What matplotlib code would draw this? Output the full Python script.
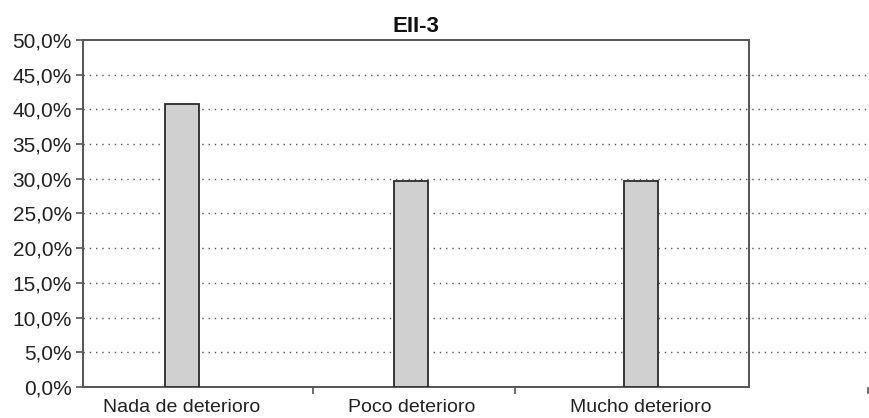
#!/usr/bin/env python3

from matplotlib import pyplot as plt

plt.rcParams['font.family'] = ['Liberation Sans', 'DejaVu Sans']

categories = ["Nada de deterioro", "Poco deterioro", "Mucho deterioro"]
values = [40.74, 29.63, 29.63]
y_ticks = [0, 5, 10, 15, 20, 25, 30, 35, 40, 45, 50]
y_labels = ["%.1f%%" % v for v in y_ticks]
y_labels = [s.replace(".", ",") for s in y_labels]

fig = plt.figure(figsize=(8.7, 4.18), dpi=100)
ax = fig.add_axes([0.0954, 0.0742, 0.7655, 0.8301])

pos = list(range(len(categories)))
ax.bar(pos, values, width=0.148, color="#d0d0d0", edgecolor="#2a2a2a",
       linewidth=1.3, zorder=3)

ax.set_xlim(-0.43, 2.47)
ax.set_ylim(0, 50)

# dotted grid runs past the right edge of the frame, like the original
for y in y_ticks[1:-1]:
    ax.axhline(y, xmin=0, xmax=1.18, color="#555555", linestyle=(0, (1, 3.5)),
               linewidth=1.0, clip_on=False, zorder=1)
ax.plot([1.179, 1.179], [-0.004, -0.018], transform=ax.transAxes,
        color="#555555", linewidth=1.2, clip_on=False)

ax.set_yticks(y_ticks)
ax.set_yticklabels(y_labels, fontsize=15, color="#222222")
ax.set_xticks(pos)
ax.set_xticklabels(categories, fontsize=14, color="#222222")
ax.set_xticks([0.57, 1.45], minor=True)
ax.tick_params(axis="x", which="major", length=0, pad=9)
ax.tick_params(axis="x", which="minor", length=5, width=1.2, color="#555555")
ax.tick_params(axis="y", length=5, width=1.2, color="#555555", pad=3)

for s in ax.spines.values():
    s.set_color("#555555")
    s.set_linewidth(1.4)

ax.set_title("EII-3", fontsize=16, fontweight="bold", color="#111111", pad=6)

plt.savefig("out.png", dpi=100)
